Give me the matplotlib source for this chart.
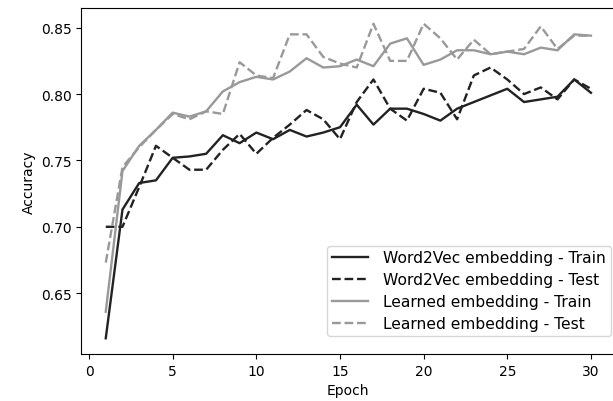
import numpy as np
import matplotlib
matplotlib.use('Agg')
import matplotlib.pyplot as plt

epochs = list(range(1, 31))

w2v_train = [0.616, 0.713, 0.733, 0.735, 0.752, 0.753, 0.755, 0.769, 0.763, 0.771,
             0.766, 0.773, 0.768, 0.771, 0.775, 0.792, 0.777, 0.789, 0.789, 0.785,
             0.780, 0.789, 0.794, 0.799, 0.804, 0.794, 0.796, 0.798, 0.811, 0.801]
w2v_test = [0.700, 0.700, 0.730, 0.761, 0.752, 0.743, 0.743, 0.758, 0.770, 0.755,
            0.767, 0.777, 0.788, 0.781, 0.766, 0.794, 0.811, 0.789, 0.780, 0.804,
            0.801, 0.781, 0.814, 0.820, 0.811, 0.800, 0.805, 0.796, 0.811, 0.804]
learned_train = [0.636, 0.742, 0.761, 0.773, 0.786, 0.783, 0.787, 0.802, 0.809, 0.813,
                 0.811, 0.817, 0.827, 0.820, 0.821, 0.826, 0.821, 0.838, 0.842, 0.822,
                 0.826, 0.833, 0.833, 0.830, 0.832, 0.830, 0.835, 0.833, 0.845, 0.844]
learned_test = [0.673, 0.745, 0.760, 0.773, 0.785, 0.781, 0.787, 0.785, 0.824, 0.814,
                0.812, 0.845, 0.845, 0.828, 0.823, 0.820, 0.853, 0.825, 0.825, 0.853,
                0.842, 0.826, 0.841, 0.830, 0.832, 0.834, 0.851, 0.834, 0.844, 0.844]

fig = plt.figure(figsize=(6.13, 4.02), dpi=100)
ax = fig.add_axes([81.5 / 613, 47 / 402, 533.7 / 613, 346 / 402])

dark = '#222222'
light = '#999999'
ax.plot(epochs, w2v_train, color=dark, lw=1.7, label='Word2Vec embedding - Train')
ax.plot(epochs, w2v_test, color=dark, lw=1.7, ls='--', label='Word2Vec embedding - Test')
ax.plot(epochs, learned_train, color=light, lw=1.7, label='Learned embedding - Train')
ax.plot(epochs, learned_test, color=light, lw=1.7, ls='--', label='Learned embedding - Test')

ax.set_xlabel('Epoch')
ax.set_ylabel('Accuracy')
ax.set_yticks([0.65, 0.70, 0.75, 0.80, 0.85])
ax.legend(loc='lower right', fontsize=11.2, bbox_to_anchor=(0.995, 0.048),
          borderaxespad=0.1, borderpad=0.3, labelspacing=0.45,
          handlelength=2.3, handletextpad=1.0)

plt.savefig('out.png', dpi=100)
